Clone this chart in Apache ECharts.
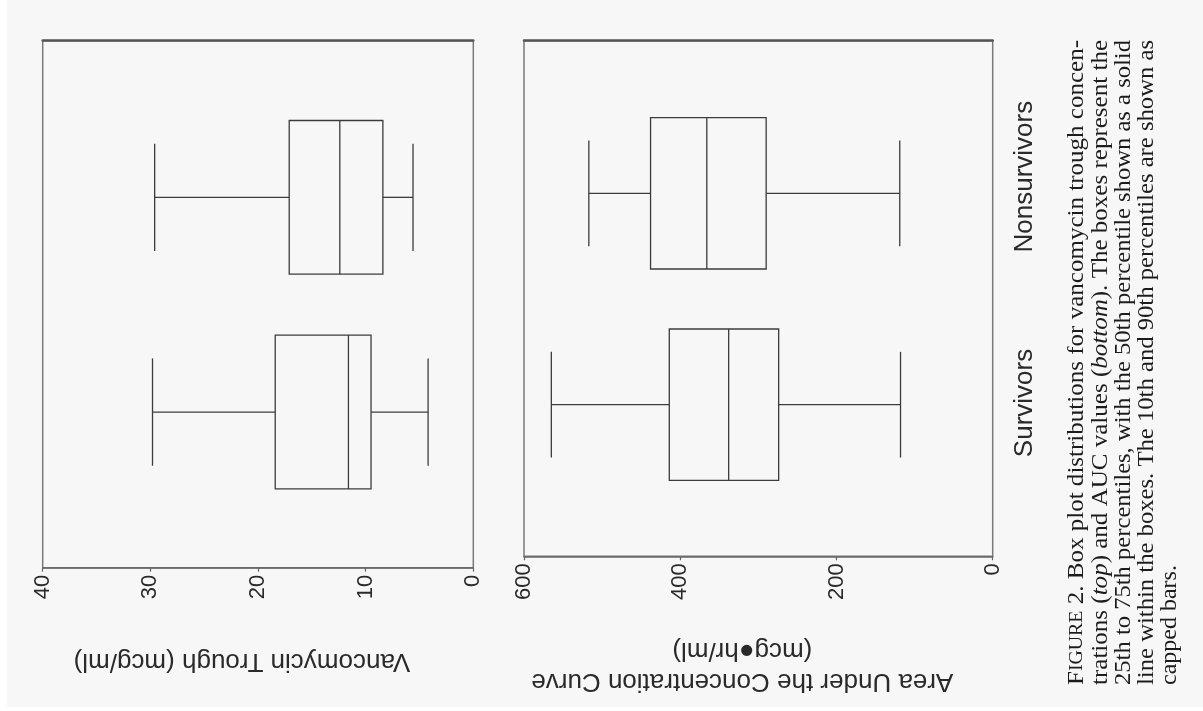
<!DOCTYPE html>
<html>
<head>
<meta charset="utf-8">
<script src="https://cdn.jsdelivr.net/npm/echarts@6/dist/echarts.min.js"></script>
<style>
  html, body { margin: 0; padding: 0; background: #ffffff; }
  #paper { position: absolute; left: 7px; top: 0; width: 1196px; height: 707px; background: #f7f7f7; }
  #chart { position: absolute; left: 0; top: 0; width: 1203px; height: 711px; }
</style>
</head>
<body>
<div id="paper"></div>
<div id="chart"></div>
<script>
// Groups (Survivors drawn lower, Nonsurvivors upper)
const categories = ['Survivors', 'Nonsurvivors'];

// Percentiles per group: 10th, 25th, 50th, 75th, 90th
const troughSurvivors = [4.2, 9.5, 11.6, 18.4, 29.8];
const troughNonsurvivors = [5.6, 8.4, 12.4, 17.1, 29.6];
const aucSurvivors = [118, 274, 338, 414, 565];
const aucNonsurvivors = [119, 290, 366, 438, 517];

// Value axis ticks
const troughAxis = { min: 0, max: 40, interval: 10 };
const aucAxis = { min: 0, max: 600, interval: 200 };

// Axis titles
const troughTitle = 'Vancomycin Trough (mcg/ml)';
const aucTitle = 'Area Under the Concentration Curve\n(mcg\u25CFhr/ml)';

// Caption lines as [text, style] runs: n = roman, sc = small caps, i = italic
const captionLines = [
  [['F', 'n'], ['IGURE', 'sc'], [' 2. Box plot distributions for vancomycin trough concen-', 'n']],
  [['trations (', 'n'], ['top', 'i'], [') and AUC values (', 'n'], ['bottom', 'i'], ['). The boxes represent the', 'n']],
  [['25th to 75th percentiles, with the 50th percentile shown as a solid', 'n']],
  [['line within the boxes. The 10th and 90th percentiles are shown as', 'n']],
  [['capped bars.', 'n']]
];

const SANS = '"Liberation Sans", Arial, Helvetica, sans-serif';
const SERIF = '"Liberation Serif", "Times New Roman", serif';
const INK = '#3c3c3c';

// Panel frames and data areas (px)
const P1 = { left: 42.7, top: 40.7, width: 430.6, height: 527 };
const P2 = { left: 524, top: 40.7, width: 468.7, height: 515.6 };
const D1 = { left: 42.7, top: 90, width: 430.6, height: 429.4 };
const D2 = { left: 524, top: 87.6, width: 468.7, height: 422.8 };
const LBL = { left: 990, top: 63.5, width: 10, height: 452.6 };

function gridOf(r, show) {
  return Object.assign({ outerBoundsMode: 'none', containLabel: false }, r, show ? {
    show: true, borderColor: '#7a7a7a', borderWidth: 1.5, backgroundColor: 'transparent'
  } : {});
}

function valueAxisBottom(gridIndex, ax, name) {
  return {
    type: 'value', gridIndex, position: 'bottom', inverse: true,
    min: ax.min, max: ax.max, interval: ax.interval,
    splitLine: { show: false },
    axisLine: { show: true, lineStyle: { color: '#666', width: 1.5 } },
    axisTick: { show: true, length: 4, lineStyle: { color: '#666', width: 1.2 } },
    axisLabel: { rotate: 90, margin: 7, fontSize: 22, color: '#2a2a2a', fontFamily: SANS },
    name, nameLocation: 'middle', nameGap: 78, nameRotate: 180,
    nameTextStyle: { fontSize: 26, color: '#2a2a2a', fontFamily: SANS, lineHeight: 31, padding: [0, 0, 0, 32] }
  };
}
function valueAxisTop(gridIndex, ax) {
  return {
    type: 'value', gridIndex, position: 'top', inverse: true,
    min: ax.min, max: ax.max, interval: ax.interval,
    splitLine: { show: false }, axisTick: { show: false }, axisLabel: { show: false },
    axisLine: { show: true, lineStyle: { color: '#555', width: 2.5 } }
  };
}
function hiddenValueAxis(gridIndex, ax) {
  return { type: 'value', gridIndex, show: false, inverse: true, min: ax.min, max: ax.max, interval: ax.interval, splitLine: { show: false } };
}

// Box: 25th-75th; median line; whiskers to 10th/90th with caps
function boxItem(params, api) {
  const ci = api.value(0);
  const v = [1, 2, 3, 4, 5].map(i => api.value(i));
  const x = val => api.coord([val, ci])[0];
  const yc = api.coord([v[2], ci])[1];
  const band = api.size([0, 1])[1];
  const hb = band * 0.358, hc = band * 0.25;
  const x10 = x(v[0]), x25 = x(v[1]), x50 = x(v[2]), x75 = x(v[3]), x90 = x(v[4]);
  const st = { stroke: INK, lineWidth: 1.3, fill: null };
  const line = (x1, y1, x2, y2) => ({ type: 'line', shape: { x1, y1, x2, y2 }, style: st });
  return {
    type: 'group',
    children: [
      { type: 'rect', shape: { x: Math.min(x25, x75), y: yc - hb, width: Math.abs(x25 - x75), height: 2 * hb }, style: { stroke: INK, lineWidth: 1.3, fill: 'none' } },
      line(x50, yc - hb, x50, yc + hb),
      line(x25, yc, x10, yc),
      line(x75, yc, x90, yc),
      line(x10, yc - hc, x10, yc + hc),
      line(x90, yc - hc, x90, yc + hc)
    ]
  };
}

// Caption: each full line spread to the column width
const measureCtx = document.createElement('canvas').getContext('2d');
const runFont = { n: '24px ' + SERIF, sc: '19px ' + SERIF, i: 'italic 24px ' + SERIF };
function runsWidth(runs) {
  let w = 0;
  runs.forEach(([t, k]) => { measureCtx.font = runFont[k]; w += measureCtx.measureText(t).width; });
  return w;
}
const COLUMN = 645;
const captionGraphics = captionLines.map((runs, i) => {
  const natural = runsWidth(runs);
  const last = i === captionLines.length - 1;
  return {
    type: 'text', x: 1077 + i * 23.3, y: 685, rotation: Math.PI / 2,
    scaleX: last ? 1 : COLUMN / natural,
    style: {
      text: runs.map(([t, k]) => '{' + k + '|' + t + '}').join(''),
      rich: {
        n: { fontFamily: SERIF, fontSize: 24, fill: '#1c1c1c' },
        sc: { fontFamily: SERIF, fontSize: 19, fill: '#1c1c1c' },
        i: { fontFamily: SERIF, fontSize: 24, fontStyle: 'italic', fill: '#1c1c1c' }
      },
      align: 'left', verticalAlign: 'middle'
    }
  };
});

const chart = echarts.init(document.getElementById('chart'));
chart.setOption({
  backgroundColor: 'transparent',
  animation: false,
  grid: [gridOf(P1, true), gridOf(P2, true), gridOf(D1), gridOf(D2), gridOf(LBL)],
  xAxis: [
    valueAxisBottom(0, troughAxis, troughTitle),
    valueAxisTop(0, troughAxis),
    valueAxisBottom(1, aucAxis, aucTitle),
    valueAxisTop(1, aucAxis),
    hiddenValueAxis(2, troughAxis),
    hiddenValueAxis(3, aucAxis),
    { type: 'value', gridIndex: 4, show: false }
  ],
  yAxis: [
    { type: 'category', gridIndex: 0, show: false, data: categories },
    { type: 'category', gridIndex: 1, show: false, data: categories },
    { type: 'category', gridIndex: 2, show: false, data: categories },
    { type: 'category', gridIndex: 3, show: false, data: categories },
    {
      type: 'category', gridIndex: 4, position: 'right', data: categories,
      axisLine: { show: false }, axisTick: { show: false }, splitLine: { show: false },
      axisLabel: { rotate: 90, margin: 12, fontSize: 26, color: '#2a2a2a', fontFamily: SANS }
    }
  ],
  series: [
    {
      type: 'custom', xAxisIndex: 4, yAxisIndex: 2, renderItem: boxItem,
      encode: { x: [1, 2, 3, 4, 5], y: 0 },
      data: [[0].concat(troughSurvivors), [1].concat(troughNonsurvivors)]
    },
    {
      type: 'custom', xAxisIndex: 5, yAxisIndex: 3, renderItem: boxItem,
      encode: { x: [1, 2, 3, 4, 5], y: 0 },
      data: [[0].concat(aucSurvivors), [1].concat(aucNonsurvivors)]
    }
  ],
  graphic: captionGraphics
});
</script>
</body>
</html>
